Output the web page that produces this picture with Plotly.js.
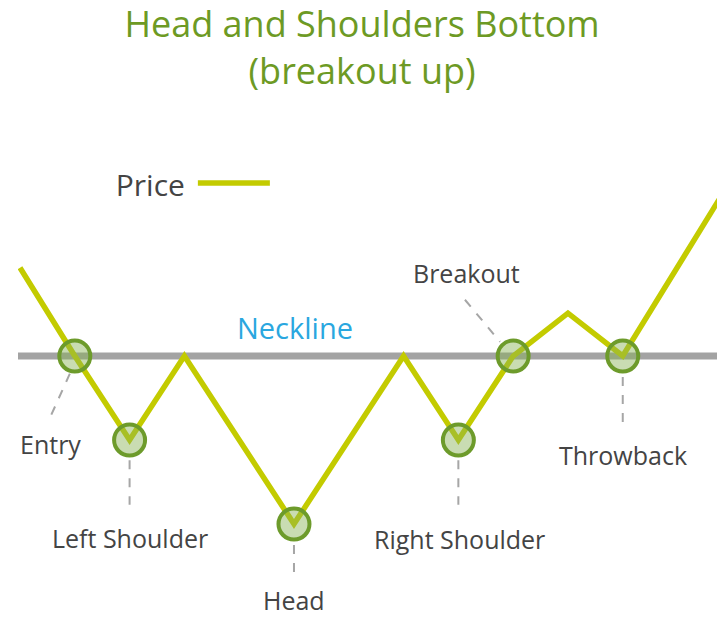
<!DOCTYPE html>
<html>
<head>
<meta charset="utf-8">
<script src="https://cdn.plot.ly/plotly-3.0.1.min.js"></script>
<style>html,body{margin:0;padding:0;background:#fff;}#chart{width:717px;height:618px;}</style>
</head>
<body>
<div id="chart"></div>
<script>
// Price path (x = time step, y = price)
const priceX = [0, 1, 2, 3, 5, 7, 8, 9, 10, 11, 13];
const priceY = [60.5, 50, 40, 50, 30, 50, 40, 50, 55.1, 50, 71.2];
// Neckline level
const necklineX = [-0.04, 12.72];
const necklineY = [50, 50];
// Key points (circled)
const keyLabels = ["Entry", "Left Shoulder", "Head", "Right Shoulder", "Breakout", "Throwback"];
const keyX = [1, 2, 5, 8, 9, 11];
const keyY = [50, 40, 30, 40, 50, 50];

const FONT = "'Open Sans', Lato, sans-serif";
const TXT = "#444444";
const LEAD = "#a6a6a6";

// label placement (text center, leader from/to) keyed by label
const labelPos = {
  "Entry":          {tx: 0.55, ty: 39.5,  l: [0.91, 47.9, 0.55, 42.7]},
  "Left Shoulder":  {tx: 2.0,  ty: 28.3,  l: [2.0, 37.6, 2.0, 32.3]},
  "Head":           {tx: 5.0,  ty: 20.9,  l: [5.0, 27.5, 5.0, 23.3]},
  "Right Shoulder": {tx: 8.02, ty: 28.2,  l: [8.0, 37.6, 8.0, 32.3]},
  "Breakout":       {tx: 8.14, ty: 59.9,  l: [8.12, 56.7, 8.76, 51.7]},
  "Throwback":      {tx: 11.0, ty: 38.2,  l: [11.0, 47.5, 11.0, 41.9]}
};

const annotations = keyLabels.map(function(name){
  const p = labelPos[name];
  return {x: p.tx, y: p.ty, xref: 'x', yref: 'y', text: name, showarrow: false,
          font: {family: FONT, size: 25, color: TXT}, xanchor: 'center', yanchor: 'middle'};
});
annotations.push({x: 5.02, y: 53.35, xref: 'x', yref: 'y', text: 'Neckline', showarrow: false,
  font: {family: FONT, size: 29, color: '#2aa7df'}, xanchor: 'center', yanchor: 'middle'});

const shapes = keyLabels.map(function(name){
  const l = labelPos[name].l;
  return {type: 'line', xref: 'x', yref: 'y', x0: l[0], y0: l[1], x1: l[2], y1: l[3],
          line: {color: LEAD, width: 2, dash: 'dash'}};
});

const traces = [
  {x: necklineX, y: necklineY, type: 'scatter', mode: 'lines', name: 'Neckline',
   line: {color: '#a3a3a3', width: 7}, showlegend: false, hoverinfo: 'skip'},
  {x: priceX, y: priceY, type: 'scatter', mode: 'lines', name: '',
   line: {color: '#c3cb00', width: 5.5}, showlegend: true},
  {x: keyX, y: keyY, type: 'scatter', mode: 'markers', name: 'Key points', text: keyLabels,
   marker: {size: 31, color: 'rgba(135,178,85,0.45)', line: {color: '#6d9b2b', width: 4}},
   showlegend: false}
];

const layout = {
  width: 717, height: 618,
  margin: {l: 18, r: 0, t: 100, b: 0},
  paper_bgcolor: '#ffffff', plot_bgcolor: '#ffffff',
  title: {text: 'Head and Shoulders Bottom<br>(breakout up)', x: 0.505, xanchor: 'center',
          y: 0.94, yanchor: 'top', font: {family: FONT, size: 36, color: '#6d9a24'}},
  xaxis: {range: [-0.0365, 12.72], visible: false, fixedrange: true},
  yaxis: {range: [18.81, 80.48], visible: false, fixedrange: true},
  showlegend: true,
  legend: {orientation: 'h', x: 0.137, y: 0.84, xanchor: 'left', yanchor: 'middle',
           bgcolor: 'rgba(0,0,0,0)', itemwidth: 72,
           title: {text: 'Price', side: 'left', font: {family: FONT, size: 30, color: TXT}},
           font: {family: FONT, size: 30, color: TXT}},
  annotations: annotations,
  shapes: shapes
};

Plotly.newPlot('chart', traces, layout, {displayModeBar: false, staticPlot: true});
</script>
</body>
</html>
